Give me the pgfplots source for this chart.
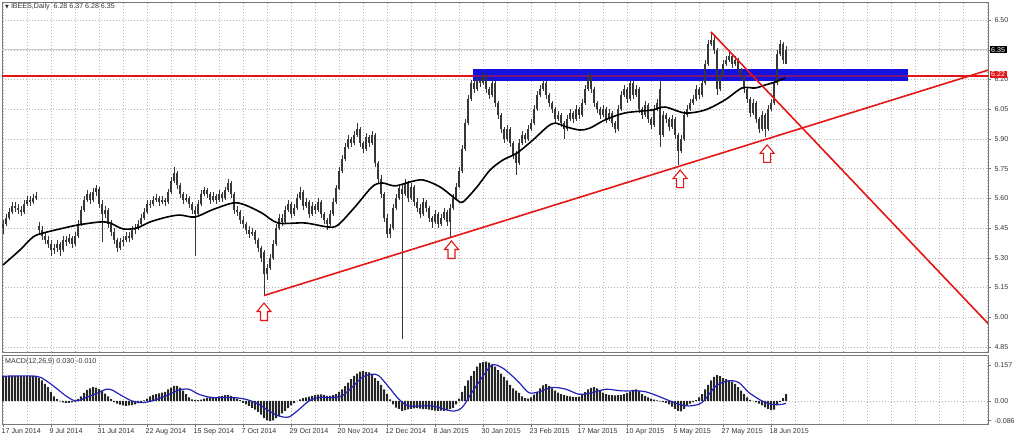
\documentclass[border=0pt]{standalone}
\usepackage{fontspec}
\setmainfont{Liberation Sans}
\newfontfamily\dejavu{DejaVu Sans}
\usepackage{pgfplots}
\usepackage{pgfplotstable}
\pgfplotsset{compat=1.18}
\definecolor{mtred}{RGB}{228,22,22}
\definecolor{mtblue}{RGB}{18,18,225}
\definecolor{sigblue}{RGB}{35,35,185}
\definecolor{gridgray}{RGB}{180,180,180}
\definecolor{framegray}{RGB}{120,120,120}
\definecolor{candle}{RGB}{55,55,55}
\newcommand\tfont{\fontsize{7.1}{8.4}\selectfont}

\pgfdeclareplotmark{uparrow}{%
  \pgfpathmoveto{\pgfpoint{0pt}{0pt}}%
  \pgfpathlineto{\pgfpoint{7pt}{-8.5pt}}%
  \pgfpathlineto{\pgfpoint{3.5pt}{-8.5pt}}%
  \pgfpathlineto{\pgfpoint{3.5pt}{-17.5pt}}%
  \pgfpathlineto{\pgfpoint{-3.5pt}{-17.5pt}}%
  \pgfpathlineto{\pgfpoint{-3.5pt}{-8.5pt}}%
  \pgfpathlineto{\pgfpoint{-7pt}{-8.5pt}}%
  \pgfpathclose
  \pgfusepathqfillstroke}

\pgfplotstableread[row sep=\\]{
o h l c\\
5.45 5.49 5.42 5.47\\ 5.47 5.52 5.46 5.50\\ 5.50 5.55 5.49 5.53\\ 5.53 5.58 5.52 5.56\\ 5.56 5.58 5.53 5.55\\ 5.55 5.57 5.52 5.54\\ 5.54 5.56 5.51 5.53\\ 5.53 5.59 5.52 5.57\\ 5.57 5.61 5.56 5.59\\ 5.59 5.61 5.56 5.58\\
5.58 5.62 5.57 5.60\\ 5.60 5.63 5.59 5.61\\ 5.46 5.48 5.42 5.44\\ 5.44 5.46 5.39 5.41\\ 5.41 5.43 5.37 5.39\\ 5.39 5.41 5.35 5.37\\ 5.37 5.39 5.31 5.34\\ 5.34 5.37 5.32 5.35\\ 5.35 5.39 5.33 5.37\\ 5.37 5.38 5.31 5.34\\
5.34 5.41 5.33 5.39\\ 5.39 5.41 5.36 5.38\\ 5.38 5.42 5.37 5.40\\ 5.40 5.41 5.35 5.37\\ 5.37 5.43 5.36 5.41\\ 5.41 5.49 5.40 5.47\\ 5.47 5.56 5.46 5.54\\ 5.54 5.61 5.53 5.59\\ 5.59 5.64 5.58 5.62\\ 5.62 5.63 5.57 5.59\\
5.59 5.65 5.58 5.63\\ 5.63 5.67 5.61 5.65\\ 5.65 5.66 5.55 5.57\\ 5.57 5.59 5.38 5.52\\ 5.52 5.56 5.50 5.54\\ 5.54 5.55 5.45 5.47\\ 5.47 5.49 5.41 5.43\\ 5.43 5.45 5.37 5.39\\ 5.39 5.40 5.33 5.35\\ 5.35 5.40 5.34 5.38\\
5.38 5.41 5.36 5.39\\ 5.39 5.43 5.38 5.41\\ 5.41 5.43 5.38 5.40\\ 5.40 5.46 5.39 5.44\\ 5.44 5.47 5.42 5.45\\ 5.45 5.49 5.44 5.47\\ 5.47 5.52 5.46 5.50\\ 5.50 5.55 5.49 5.53\\ 5.53 5.59 5.52 5.57\\ 5.57 5.59 5.55 5.57\\
5.57 5.61 5.56 5.59\\ 5.59 5.62 5.58 5.60\\ 5.60 5.61 5.56 5.58\\ 5.58 5.61 5.57 5.59\\ 5.59 5.60 5.56 5.58\\ 5.58 5.65 5.57 5.63\\ 5.63 5.71 5.62 5.69\\ 5.69 5.76 5.68 5.73\\ 5.73 5.74 5.65 5.67\\ 5.67 5.68 5.60 5.62\\
5.62 5.63 5.57 5.59\\ 5.59 5.62 5.58 5.60\\ 5.60 5.61 5.55 5.57\\ 5.57 5.58 5.52 5.54\\ 5.54 5.56 5.31 5.52\\ 5.52 5.59 5.51 5.57\\ 5.57 5.64 5.56 5.62\\ 5.62 5.66 5.61 5.64\\ 5.64 5.65 5.60 5.62\\ 5.62 5.63 5.57 5.59\\
5.59 5.63 5.58 5.61\\ 5.61 5.62 5.57 5.59\\ 5.59 5.64 5.58 5.62\\ 5.62 5.63 5.58 5.60\\ 5.60 5.66 5.59 5.64\\ 5.64 5.70 5.63 5.68\\ 5.68 5.69 5.60 5.62\\ 5.62 5.63 5.52 5.54\\ 5.54 5.56 5.51 5.53\\ 5.53 5.54 5.47 5.49\\
5.49 5.51 5.45 5.47\\ 5.47 5.48 5.42 5.44\\ 5.44 5.46 5.40 5.42\\ 5.42 5.45 5.41 5.43\\ 5.43 5.44 5.37 5.39\\ 5.39 5.40 5.33 5.35\\ 5.35 5.36 5.28 5.30\\ 5.33 5.34 5.11 5.22\\ 5.22 5.27 5.19 5.25\\ 5.25 5.32 5.24 5.30\\
5.30 5.39 5.29 5.37\\ 5.37 5.47 5.36 5.45\\ 5.45 5.52 5.44 5.50\\ 5.50 5.52 5.46 5.48\\ 5.48 5.56 5.47 5.54\\ 5.54 5.59 5.53 5.57\\ 5.57 5.58 5.50 5.52\\ 5.52 5.57 5.51 5.55\\ 5.55 5.62 5.54 5.60\\ 5.60 5.66 5.59 5.63\\
5.63 5.64 5.54 5.56\\ 5.56 5.60 5.55 5.58\\ 5.58 5.59 5.50 5.52\\ 5.52 5.58 5.51 5.56\\ 5.56 5.57 5.52 5.54\\ 5.54 5.60 5.53 5.58\\ 5.58 5.59 5.50 5.52\\ 5.52 5.53 5.47 5.49\\ 5.49 5.50 5.44 5.47\\ 5.47 5.54 5.46 5.52\\
5.52 5.60 5.51 5.58\\ 5.58 5.67 5.57 5.65\\ 5.65 5.76 5.64 5.74\\ 5.74 5.82 5.73 5.80\\ 5.80 5.88 5.79 5.86\\ 5.86 5.92 5.85 5.90\\ 5.90 5.91 5.86 5.88\\ 5.88 5.94 5.87 5.92\\ 5.92 5.98 5.91 5.95\\ 5.95 5.96 5.86 5.88\\
5.88 5.89 5.83 5.85\\ 5.85 5.93 5.84 5.91\\ 5.91 5.92 5.86 5.88\\ 5.88 5.94 5.87 5.92\\ 5.92 5.93 5.76 5.78\\ 5.78 5.79 5.68 5.70\\ 5.70 5.72 5.60 5.62\\ 5.62 5.63 5.48 5.50\\ 5.50 5.52 5.40 5.42\\ 5.42 5.47 5.40 5.45\\
5.45 5.57 5.44 5.55\\ 5.55 5.62 5.54 5.60\\ 5.60 5.67 5.59 5.65\\ 5.65 5.67 4.89 5.62\\ 5.62 5.70 5.61 5.68\\ 5.68 5.69 5.58 5.60\\ 5.60 5.68 5.59 5.66\\ 5.66 5.67 5.56 5.58\\ 5.58 5.60 5.53 5.55\\ 5.55 5.57 5.50 5.52\\
5.52 5.60 5.51 5.58\\ 5.58 5.59 5.53 5.55\\ 5.55 5.56 5.48 5.50\\ 5.50 5.51 5.45 5.48\\ 5.48 5.54 5.47 5.52\\ 5.52 5.53 5.45 5.47\\ 5.47 5.52 5.46 5.50\\ 5.50 5.55 5.49 5.53\\ 5.53 5.54 5.46 5.48\\ 5.48 5.57 5.40 5.55\\
5.55 5.62 5.54 5.60\\ 5.60 5.68 5.59 5.66\\ 5.66 5.76 5.65 5.74\\ 5.74 5.87 5.73 5.85\\ 5.85 6.00 5.84 5.98\\ 5.98 6.12 5.97 6.10\\ 6.10 6.20 6.09 6.18\\ 6.18 6.19 6.13 6.15\\ 6.15 6.22 6.14 6.20\\ 6.20 6.21 6.16 6.18\\
6.18 6.24 6.17 6.22\\ 6.22 6.23 6.13 6.15\\ 6.15 6.16 6.10 6.12\\ 6.12 6.20 6.11 6.18\\ 6.18 6.19 6.06 6.08\\ 6.08 6.09 6.00 6.02\\ 6.02 6.03 5.93 5.95\\ 5.95 5.96 5.88 5.90\\ 5.90 5.97 5.89 5.95\\ 5.95 5.96 5.86 5.88\\
5.88 5.89 5.80 5.82\\ 5.82 5.84 5.72 5.78\\ 5.78 5.90 5.77 5.88\\ 5.88 5.94 5.87 5.92\\ 5.92 5.93 5.88 5.90\\ 5.90 5.97 5.89 5.95\\ 5.95 6.00 5.94 5.98\\ 5.98 6.07 5.97 6.05\\ 6.05 6.14 6.04 6.12\\ 6.12 6.17 6.11 6.15\\
6.15 6.20 6.14 6.18\\ 6.18 6.19 6.10 6.12\\ 6.12 6.13 6.06 6.08\\ 6.08 6.09 6.03 6.05\\ 6.05 6.06 5.98 6.00\\ 6.00 6.04 5.99 6.02\\ 6.02 6.03 5.96 5.98\\ 5.98 5.99 5.90 5.95\\ 5.95 6.02 5.94 6.00\\ 6.00 6.05 5.99 6.03\\
6.03 6.04 5.98 6.00\\ 6.00 6.07 5.99 6.05\\ 6.05 6.06 6.00 6.02\\ 6.02 6.10 6.01 6.08\\ 6.08 6.17 6.07 6.15\\ 6.15 6.24 6.14 6.22\\ 6.22 6.23 6.13 6.15\\ 6.15 6.16 6.06 6.08\\ 6.08 6.09 6.03 6.05\\ 6.05 6.06 6.00 6.02\\
6.02 6.07 6.01 6.05\\ 6.05 6.06 5.98 6.00\\ 6.00 6.05 5.99 6.03\\ 6.03 6.04 5.96 5.98\\ 5.98 5.99 5.93 5.95\\ 5.95 6.07 5.94 6.05\\ 6.05 6.14 6.04 6.12\\ 6.12 6.17 6.11 6.15\\ 6.15 6.16 6.08 6.10\\ 6.10 6.19 6.09 6.18\\
6.18 6.19 6.10 6.12\\ 6.12 6.17 6.11 6.15\\ 6.15 6.16 6.03 6.05\\ 6.05 6.06 6.00 6.02\\ 6.02 6.09 6.01 6.07\\ 6.07 6.08 5.98 6.00\\ 6.00 6.01 5.95 5.97\\ 5.97 6.07 5.96 6.05\\ 6.05 6.10 6.04 6.08\\ 6.15 6.20 5.86 5.92\\
5.92 6.04 5.91 6.02\\ 6.02 6.03 5.98 6.00\\ 6.00 6.01 5.94 5.96\\ 5.96 6.02 5.95 6.00\\ 6.00 6.01 5.90 5.92\\ 5.92 5.93 5.77 5.84\\ 5.84 5.92 5.83 5.90\\ 5.90 6.04 5.89 6.02\\ 6.02 6.07 6.01 6.05\\ 6.05 6.10 6.04 6.08\\
6.08 6.12 6.07 6.10\\ 6.10 6.17 6.09 6.15\\ 6.15 6.16 6.10 6.12\\ 6.12 6.20 6.11 6.18\\ 6.18 6.30 6.17 6.28\\ 6.28 6.40 6.27 6.38\\ 6.38 6.44 6.37 6.40\\ 6.40 6.42 6.33 6.35\\ 6.35 6.36 6.12 6.15\\ 6.15 6.24 6.14 6.22\\
6.22 6.30 6.21 6.28\\ 6.28 6.32 6.27 6.30\\ 6.30 6.35 6.29 6.32\\ 6.32 6.33 6.26 6.28\\ 6.28 6.32 6.27 6.30\\ 6.30 6.31 6.23 6.25\\ 6.25 6.26 6.20 6.22\\ 6.22 6.23 6.13 6.15\\ 6.15 6.16 6.08 6.10\\ 6.10 6.11 6.01 6.03\\
6.03 6.10 6.02 6.08\\ 6.08 6.09 5.98 6.00\\ 6.00 6.01 5.93 5.95\\ 5.95 6.04 5.94 6.02\\ 6.02 6.03 5.91 5.95\\ 5.95 6.07 5.94 6.05\\ 6.05 6.10 6.04 6.08\\ 6.08 6.20 6.07 6.18\\ 6.18 6.35 6.17 6.33\\ 6.33 6.40 6.32 6.38\\
6.38 6.39 6.28 6.30\\ 6.28 6.37 6.28 6.35\\
}\ohlc

\pgfplotstableread[row sep=\\]{
v\\
0.108\\ 0.108\\ 0.108\\ 0.108\\ 0.108\\ 0.108\\ 0.108\\ 0.108\\ 0.108\\ 0.108\\ 0.108\\ 0.108\\
0.10\\ 0.09\\ 0.075\\ 0.06\\ 0.04\\ 0.02\\ 0.008\\ -0.002\\ -0.006\\ -0.008\\ -0.008\\ -0.006\\ -0.003\\ 0.008\\
0.02\\ 0.035\\ 0.048\\ 0.055\\ 0.06\\ 0.058\\ 0.052\\ 0.045\\ 0.032\\ 0.02\\ 0.008\\ -0.005\\ -0.012\\ -0.016\\
-0.02\\ -0.022\\ -0.02\\ -0.018\\ -0.015\\ -0.01\\ -0.005\\ 0.002\\ 0.01\\ 0.02\\ 0.026\\ 0.03\\ 0.033\\ 0.036\\
0.04\\ 0.05\\ 0.058\\ 0.066\\ 0.066\\ 0.058\\ 0.045\\ 0.03\\ 0.015\\ 0.007\\ 0.004\\ 0.003\\ 0.006\\ 0.01\\
0.014\\ 0.016\\ 0.014\\ 0.015\\ 0.02\\ 0.022\\ 0.025\\ 0.026\\ 0.022\\ 0.015\\ 0.01\\ 0.004\\ -0.008\\ -0.015\\
-0.022\\ -0.03\\ -0.038\\ -0.048\\ -0.06\\ -0.075\\ -0.085\\ -0.088\\ -0.085\\ -0.075\\ -0.065\\ -0.055\\ -0.044\\ -0.032\\
-0.02\\ -0.01\\ 0.0\\ 0.007\\ 0.012\\ 0.015\\ 0.019\\ 0.022\\ 0.025\\ 0.028\\ 0.029\\ 0.026\\ 0.022\\ 0.022\\
0.025\\ 0.03\\ 0.04\\ 0.051\\ 0.065\\ 0.08\\ 0.095\\ 0.11\\ 0.12\\ 0.128\\ 0.13\\ 0.127\\ 0.125\\ 0.115\\
0.1\\ 0.088\\ 0.07\\ 0.05\\ 0.03\\ 0.007\\ -0.015\\ -0.029\\ -0.035\\ -0.044\\ -0.04\\ -0.037\\ -0.035\\ -0.033\\
-0.032\\ -0.034\\ -0.036\\ -0.035\\ -0.038\\ -0.04\\ -0.042\\ -0.044\\ -0.043\\ -0.044\\ -0.04\\ -0.035\\ -0.03\\ -0.015\\
0.01\\ 0.04\\ 0.066\\ 0.09\\ 0.11\\ 0.13\\ 0.15\\ 0.165\\ 0.17\\ 0.172\\ 0.168\\ 0.16\\ 0.15\\ 0.135\\
0.12\\ 0.105\\ 0.09\\ 0.07\\ 0.055\\ 0.045\\ 0.035\\ 0.02\\ 0.012\\ 0.01\\ 0.015\\ 0.028\\ 0.04\\ 0.055\\
0.068\\ 0.073\\ 0.065\\ 0.055\\ 0.045\\ 0.036\\ 0.03\\ 0.025\\ 0.022\\ 0.02\\ 0.018\\ 0.017\\ 0.018\\ 0.025\\
0.038\\ 0.05\\ 0.057\\ 0.06\\ 0.055\\ 0.045\\ 0.036\\ 0.03\\ 0.026\\ 0.025\\ 0.024\\ 0.025\\ 0.027\\ 0.03\\
0.035\\ 0.042\\ 0.048\\ 0.05\\ 0.044\\ 0.03\\ 0.022\\ 0.015\\ 0.01\\ 0.006\\ 0.002\\ -0.002\\ -0.005\\ -0.008\\
-0.015\\ -0.025\\ -0.035\\ -0.044\\ -0.046\\ -0.035\\ -0.02\\ -0.012\\ -0.005\\ 0.003\\ 0.015\\ 0.03\\ 0.05\\ 0.07\\
0.09\\ 0.105\\ 0.113\\ 0.108\\ 0.1\\ 0.095\\ 0.09\\ 0.085\\ 0.075\\ 0.06\\ 0.045\\ 0.03\\ 0.015\\ 0.005\\
0.0\\ -0.005\\ -0.012\\ -0.02\\ -0.028\\ -0.035\\ -0.04\\ -0.038\\ -0.02\\ -0.005\\ 0.012\\ 0.03\\
}\macdhist

\pgfplotsset{/pgf/number format/assume math mode=true}

\begin{document}
\begin{tikzpicture}
\path[use as bounding box] (0,0) rectangle (1020pt,439pt);
\begin{axis}[
  at={(2pt,87pt)}, anchor=south west, width=986pt, height=350pt, scale only axis,
  xmin=-0.333, xmax=328.333, ymin=4.825, ymax=6.591,
  axis line style={framegray, line width=0.8pt},
  xtick={0,8,...,328}, xticklabels={}, xtick style={draw=none},
  ytick={4.85,5.00,5.15,5.30,5.45,5.60,5.75,5.90,6.05,6.20,6.35,6.50},
  yticklabels={4.85,5.00,5.15,5.30,5.45,5.60,5.75,5.90,6.05,6.20,,6.50},
  xmajorgrids, ymajorgrids, grid style={gridgray, dash pattern=on 1pt off 2pt, line width=0.5pt},
  ytick pos=right, tick align=outside, major tick length=3pt,
  ytick style={framegray, line width=0.5pt},
  yticklabel style={font=\tfont, text=black!80},
]
\addplot[color=black!20, line width=1.2pt] coordinates {(-1,6.35) (330,6.35)};
\addplot[color=mtblue, line width=12.5pt] coordinates {(156.67,6.2215) (301.67,6.2215)};
\addplot[color=mtred, line width=2pt] coordinates {(-1,6.22) (156.67,6.22)};
\addplot[color=mtred, line width=2pt, opacity=0.5] coordinates {(156.67,6.22) (301.67,6.22)};
\addplot[color=mtred, line width=2pt] coordinates {(301.67,6.22) (330,6.22)};
% candle wicks
\addplot[draw=none, mark=none, error bars/.cd, y dir=both, y explicit, error mark=none,
  error bar style={draw=candle, line width=0.6pt, solid}]
  table[x expr=\coordindex, y expr={(\thisrow{h}+\thisrow{l})/2}, y error expr={(\thisrow{h}-\thisrow{l})/2}] {\ohlc};
% candle bodies
\addplot[draw=none, mark=none, error bars/.cd, y dir=both, y explicit, error mark=none,
  error bar style={draw=candle, line width=1.6pt, solid}]
  table[x expr=\coordindex, y expr={(\thisrow{o}+\thisrow{c})/2}, y error expr={max(abs(\thisrow{o}-\thisrow{c})/2,0.004)}] {\ohlc};
% moving average
\addplot[black, line width=1.6pt, smooth] coordinates {
(0,5.264) (5.67,5.340) (10,5.405) (13.33,5.425) (19,5.446) (25,5.466) (32.33,5.481) (35.67,5.476)
(40,5.446) (44.67,5.451) (49,5.481) (54.67,5.506) (59,5.516) (64,5.506) (69.67,5.542) (76.67,5.577)
(80.67,5.567) (86.33,5.526) (91.67,5.476) (100.67,5.476) (108.33,5.456) (111.67,5.466) (117.33,5.557)
(123,5.658) (126.33,5.678) (130.67,5.663) (135.67,5.683) (140,5.693) (145.67,5.658) (151.33,5.592)
(153.33,5.582) (158,5.658) (162.33,5.743) (166.67,5.794) (171.33,5.829) (176.67,5.895) (181.33,5.960)
(184,5.980) (188,5.960) (192.33,5.945) (195.67,5.955) (200.67,5.996) (207.33,6.031) (216.33,6.046)
(220.67,6.061) (227.33,6.031) (234,6.046) (240.67,6.097) (246.33,6.157) (250.67,6.157) (254,6.172)
(257.33,6.187) (260.67,6.207)};
% trend lines
\addplot[color=mtred, line width=1.6pt] coordinates {(87,5.11) (328.333,6.247)};
\addplot[color=mtred, line width=1.6pt] coordinates {(236,6.44) (328.333,4.969)};
% arrows
\addplot[only marks, mark=uparrow, mark options={draw=mtred, fill=white, line width=1.1pt, solid}]
  coordinates {(87,5.072) (149.5,5.385) (225.7,5.743) (254.7,5.87)};
\coordinate (p635) at (axis cs:328.333,6.35);
\coordinate (p622) at (axis cs:328.333,6.22);
\end{axis}

\begin{axis}[
  at={(2pt,15pt)}, anchor=south west, width=986pt, height=69pt, scale only axis,
  xmin=-0.333, xmax=328.333, ymin=-0.101, ymax=0.201,
  axis line style={framegray, line width=0.8pt},
  xtick={0,16,...,256},
  xticklabels={17 Jun 2014,9 Jul 2014,31 Jul 2014,22 Aug 2014,15 Sep 2014,7 Oct 2014,29 Oct 2014,20 Nov 2014,12 Dec 2014,8 Jan 2015,30 Jan 2015,23 Feb 2015,17 Mar 2015,10 Apr 2015,5 May 2015,27 May 2015,18 Jun 2015},
  minor xtick={8,16,...,328},
  xmajorgrids, xminorgrids,
  major grid style={gridgray, dash pattern=on 1pt off 2pt, line width=0.5pt},
  minor grid style={gridgray, dash pattern=on 1pt off 2pt, line width=0.5pt},
  ytick={-0.086,0,0.157}, yticklabels={-0.086,0.00,0.157},
  xtick pos=bottom, ytick pos=right, tick align=outside,
  major tick length=3pt, minor tick length=0pt,
  tick style={framegray, line width=0.5pt},
  xticklabel style={font=\tfont, text=black!80, anchor=north west, xshift=-2.5pt, inner sep=1pt},
  yticklabel style={font=\tfont, text=black!80},
]
\addplot[color=gridgray, dash pattern=on 1pt off 2pt, line width=0.5pt] coordinates {(-1,0) (330,0)};
\addplot[ybar, bar width=2pt, bar shift=0pt, fill=black!85, draw=none] table[x expr=\coordindex, y=v] {\macdhist};
\addplot[color=sigblue, line width=1.2pt, smooth] coordinates {
(0,0.108) (11,0.108) (15.3,0.08) (21,0.022) (24.3,0.0) (27.7,0.015) (32,0.037) (34.3,0.051) (36.3,0.048)
(39.7,0.022) (43,0.0) (46.3,-0.007) (49.7,0.0) (54.3,0.022) (58.7,0.048) (62,0.051) (65.3,0.029)
(69.7,0.015) (76.3,0.015) (81,0.007) (85.3,-0.015) (88.7,-0.044) (92,-0.066) (95.3,-0.07) (98.7,-0.037)
(102,0.0) (105.3,0.015) (109.7,0.015) (113,0.022) (116.3,0.059) (119.7,0.103) (123,0.117) (125.3,0.11)
(128.7,0.059) (132,0.007) (135.3,-0.022) (143,-0.022) (149.7,-0.044) (153,-0.029) (156.3,0.037)
(159.7,0.103) (163,0.157) (166.3,0.146) (169.7,0.11) (172,0.081) (175.3,0.036) (178.7,0.04) (183,0.059)
(187.7,0.051) (192,0.029) (196.3,0.036) (201,0.051) (206.3,0.044) (212,0.044) (215.3,0.036) (221,0.007)
(225.3,-0.015) (228.7,-0.022) (233,-0.007) (237.7,0.066) (242,0.088) (245.3,0.08) (248.7,0.036)
(253,0.0) (256.3,-0.015) (259.7,-0.015) (261,-0.010)};
\end{axis}

\node[fill=black, text=white, font=\tfont, inner xsep=1.5pt, inner ysep=1.2pt, anchor=west] at ([xshift=1.5pt]p635) {6.35};
\node[fill=mtred, text=white, font=\tfont, inner xsep=1.5pt, inner ysep=1.2pt, anchor=west] at ([xshift=1.5pt,yshift=1pt]p622) {6.22};
\node[anchor=west, font=\tfont, text=black!80, inner sep=0pt] at (5pt,432pt) {{\dejavu\fontsize{5}{6}\selectfont ▼}\ IBEES,Daily\ \ 6.28 6.37 6.28 6.35};
\node[anchor=west, font=\tfont, text=black!80, inner sep=0pt] at (5pt,77pt) {MACD(12,26,9) 0.030 -0.010};
\end{tikzpicture}
\end{document}
